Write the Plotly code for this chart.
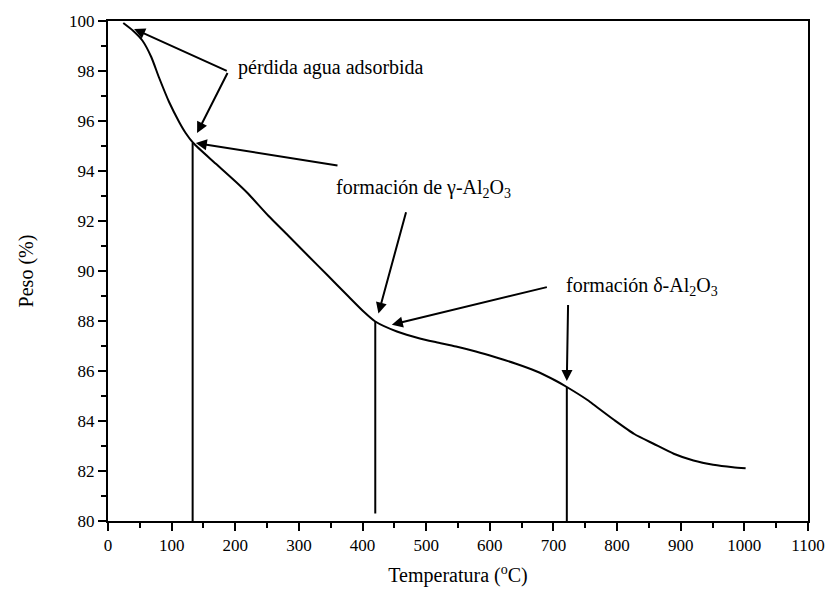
import plotly.graph_objects as go

# TGA curve (Temperature in C, weight %)
temp = [24, 39, 54, 68, 80, 96, 112, 122, 134, 169, 205, 220, 252, 283, 314, 345, 376,
        402, 420, 454, 490, 516, 547, 578, 609, 640, 672, 703, 721, 754, 766, 796,
        827, 858, 889, 920, 951, 982, 1002]
peso = [99.92, 99.62, 99.22, 98.56, 97.75, 96.76, 95.95, 95.52, 95.12, 94.3, 93.47, 93.1,
        92.21, 91.42, 90.62, 89.83, 89.03, 88.37, 87.98, 87.58, 87.3, 87.15, 86.98,
        86.78, 86.55, 86.3, 86.0, 85.62, 85.36, 84.83, 84.6, 84.03, 83.48, 83.08,
        82.69, 82.42, 82.25, 82.15, 82.11]

# vertical marker lines
vline_t = [133, 420, 721]
vline_top = [95.12, 87.98, 85.36]
vline_bottom = [80, 80.3, 80]

# labels: text, x, y
labels = ["pérdida agua adsorbida",
          "formación de γ-Al<sub>2</sub>O<sub>3</sub>",
          "formación δ-Al<sub>2</sub>O<sub>3</sub>"]
label_x = [201, 355, 717]
label_y = [98.15, 93.3, 89.37]

# arrows: tail (x,y) -> head (x,y)
arrow_tail_x = [189, 189, 363, 469, 692, 723]
arrow_tail_y = [97.98, 97.98, 94.21, 92.41, 89.37, 88.7]
arrow_head_x = [41, 140, 138, 425, 446, 721]
arrow_head_y = [99.68, 95.52, 95.12, 88.3, 87.85, 85.6]

x_ticks = list(range(0, 1101, 100))
y_ticks = list(range(80, 101, 2))

fig = go.Figure()
fig.add_trace(go.Scatter(x=temp, y=peso, mode="lines",
                         line=dict(color="black", width=2, shape="spline", smoothing=0.6),
                         showlegend=False, hoverinfo="skip"))
for t, top, bot in zip(vline_t, vline_top, vline_bottom):
    fig.add_trace(go.Scatter(x=[t, t], y=[bot, top], mode="lines",
                             line=dict(color="black", width=2),
                             showlegend=False, hoverinfo="skip"))

serif = "Liberation Serif, Times New Roman, serif"
for txt, x, y in zip(labels, label_x, label_y):
    fig.add_annotation(x=x, y=y, text=txt, showarrow=False, xanchor="left",
                       yanchor="middle", font=dict(family=serif, size=20, color="black"))

for tx, ty, hx, hy in zip(arrow_tail_x, arrow_tail_y, arrow_head_x, arrow_head_y):
    fig.add_annotation(x=hx, y=hy, ax=tx, ay=ty, xref="x", yref="y",
                       axref="x", ayref="y", text="", showarrow=True,
                       arrowhead=2, arrowsize=1.1, arrowwidth=2, arrowcolor="black")

axis_common = dict(showline=True, linecolor="black", linewidth=2, mirror=True,
                   ticks="outside", tickcolor="black", tickwidth=2, ticklen=8,
                   showgrid=False, zeroline=False,
                   tickfont=dict(family=serif, size=17, color="black"))

fig.update_xaxes(range=[0, 1100], tickvals=x_ticks,
                 minor=dict(dtick=50, ticks="outside", ticklen=5, tickwidth=2, tickcolor="black"),
                 title=dict(text="Temperatura (<sup>o</sup>C)", font=dict(family=serif, size=20, color="black"),
                            standoff=14),
                 **axis_common)
fig.update_yaxes(range=[80, 100], tickvals=y_ticks,
                 minor=dict(dtick=1, ticks="outside", ticklen=5, tickwidth=2, tickcolor="black"),
                 title=dict(text="Peso (%)", font=dict(family=serif, size=20, color="black"),
                            standoff=30),
                 **axis_common)

fig.update_layout(width=837, height=599, margin=dict(l=108, r=21, t=17, b=78),
                  plot_bgcolor="white", paper_bgcolor="white")

fig.write_html("out.html")
